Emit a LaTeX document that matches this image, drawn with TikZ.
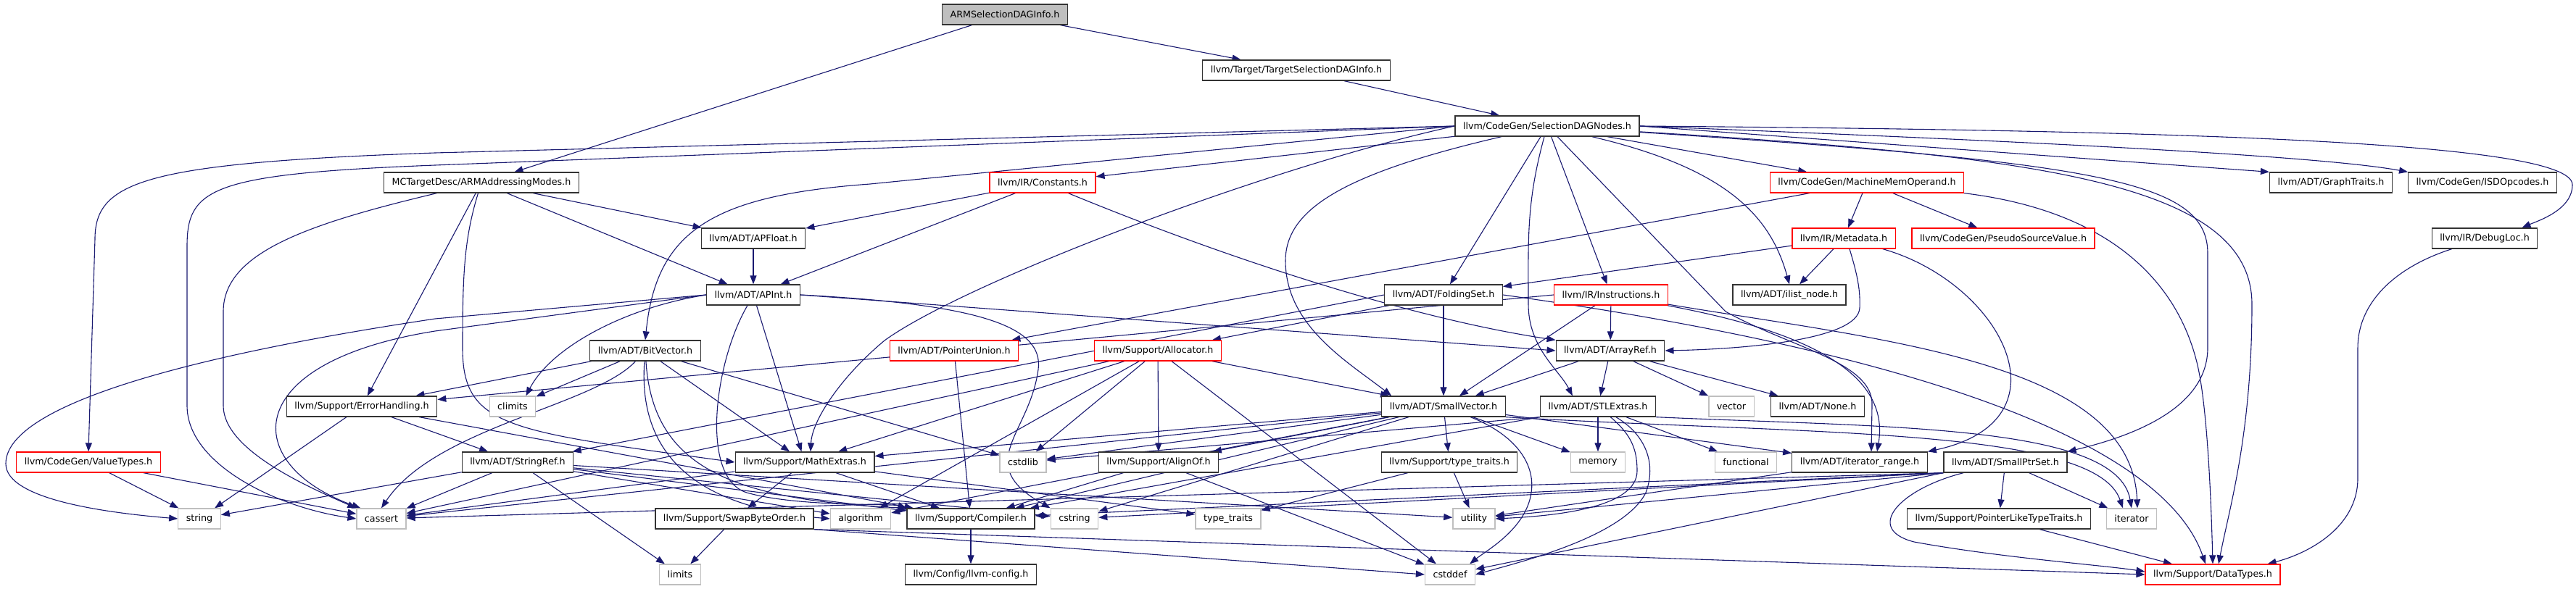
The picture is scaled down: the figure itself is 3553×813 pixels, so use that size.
\documentclass[tikz,border=0pt]{standalone}
\usepackage{fontspec}
\setmainfont{DejaVu Sans}
\usetikzlibrary{arrows.meta,backgrounds}
\definecolor{incblue}{HTML}{191970}
\definecolor{truncred}{HTML}{FF0000}
\definecolor{sysgrey}{HTML}{BFBFBF}

\begin{document}
\begin{tikzpicture}[
    x=1pt, y=-1pt,
    font=\fontsize{12.7}{15}\selectfont,
    box/.style={draw=black!80, line width=1.3pt, fill=white, inner xsep=11pt, inner ysep=0pt, minimum height=28pt},
    redbox/.style={box, draw=truncred},
    sysbox/.style={box, draw=sysgrey},
    rootbox/.style={box, fill=sysgrey},
    arr/.style={-{Triangle[length=12pt,width=9pt]}, line width=1.1pt, color=incblue}
]
\useasboundingbox (0,0) rectangle (3553,813);

% Top of the graph
\node[rootbox] (root) at (1386,20) {ARMSelectionDAGInfo.h};
\node[box] (tsdi) at (1788,97) {llvm/Target/TargetSelectionDAGInfo.h};
\node[box] (sdn) at (2134,174) {llvm/CodeGen/SelectionDAGNodes.h};

% Row 3
\node[box] (armam) at (664,252) {MCTargetDesc/ARMAddressingModes.h};
\node[redbox] (consts) at (1438,252) {llvm/IR/Constants.h};
\node[redbox] (mmo) at (2575,252) {llvm/CodeGen/MachineMemOperand.h};
\node[box] (gtraits) at (3215,252) {llvm/ADT/GraphTraits.h};
\node[box] (isd) at (3424,252) {llvm/CodeGen/ISDOpcodes.h};

% Row 4
\node[box] (apfloat) at (1039,329) {llvm/ADT/APFloat.h};
\node[redbox] (metadata) at (2543,329) {llvm/IR/Metadata.h};
\node[redbox] (psv) at (2763,329) {llvm/CodeGen/PseudoSourceValue.h};
\node[box] (dloc) at (3427,329) {llvm/IR/DebugLoc.h};

% Row 5
\node[box] (apint) at (1039,407) {llvm/ADT/APInt.h};
\node[box] (fset) at (1991,407) {llvm/ADT/FoldingSet.h};
\node[redbox] (instr) at (2222,407) {llvm/IR/Instructions.h};
\node[box] (ilist) at (2468,407) {llvm/ADT/ilist\_node.h};

% Row 6
\node[box] (bitvec) at (890,484) {llvm/ADT/BitVector.h};
\node[redbox] (punion) at (1316,484) {llvm/ADT/PointerUnion.h};
\node[redbox] (alloc) at (1597,484) {llvm/Support/Allocator.h};
\node[box] (aref) at (2221,484) {llvm/ADT/ArrayRef.h};

% Row 7
\node[box] (errh) at (499,561) {llvm/Support/ErrorHandling.h};
\node[sysbox] (climits) at (707,561) {climits};
\node[box] (svec) at (1991,561) {llvm/ADT/SmallVector.h};
\node[box] (stlx) at (2204,561) {llvm/ADT/STLExtras.h};
\node[sysbox] (vector) at (2388,561) {vector};
\node[box] (none) at (2507,561) {llvm/ADT/None.h};

% Row 8
\node[redbox] (vtypes) at (122,638) {llvm/CodeGen/ValueTypes.h};
\node[box] (sref) at (714,638) {llvm/ADT/StringRef.h};
\node[box] (mathx) at (1110,638) {llvm/Support/MathExtras.h};
\node[sysbox] (cstdlib) at (1411,638) {cstdlib};
\node[box] (alignof) at (1598,638) {llvm/Support/AlignOf.h};
\node[box] (ttraitsh) at (1999,638) {llvm/Support/type\_traits.h};
\node[sysbox] (memory) at (2204,638) {memory};
\node[sysbox] (functional) at (2408,638) {functional};
\node[box] (itrange) at (2565,638) {llvm/ADT/iterator\_range.h};
\node[box] (sptrset) at (2766,638) {llvm/ADT/SmallPtrSet.h};

% Row 9
\node[sysbox] (string) at (275,716) {string};
\node[sysbox] (cassert) at (526,716) {cassert};
\node[box] (swapbo) at (1013,716) {llvm/Support/SwapByteOrder.h};
\node[sysbox] (algorithm) at (1187,716) {algorithm};
\node[box] (compiler) at (1339,716) {llvm/Support/Compiler.h};
\node[sysbox] (cstring) at (1482,716) {cstring};
\node[sysbox] (ttraits) at (1694,716) {type\_traits};
\node[sysbox] (utility) at (2033,716) {utility};
\node[box] (pltt) at (2757,716) {llvm/Support/PointerLikeTypeTraits.h};
\node[sysbox] (iterator) at (2940,716) {iterator};

% Bottom row
\node[sysbox] (limits) at (938,793) {limits};
\node[box] (llvmcfg) at (1339,793) {llvm/Config/llvm-config.h};
\node[sysbox] (cstddef) at (2000,793) {cstddef};
\node[redbox] (dtypes) at (3052,793) {llvm/Support/DataTypes.h};

\begin{pgfonlayer}{background}
% Includes of the top files
\draw[arr] (root) -- (armam);
\draw[arr] (root) -- (tsdi);
\draw[arr] (tsdi) -- (sdn);

% ARMAddressingModes
\draw[arr] (armam) -- (apfloat);
\draw[arr] (armam) -- (apint);
\draw[arr] (armam) -- (errh);
\draw[arr] (armam) .. controls (640,330) and (638,380) .. (638,480) .. controls (638,590) and (700,595) .. (mathx.west);
\draw[arr] (armam) .. controls (420,310) and (308,350) .. (308,430) -- (308,560) .. controls (308,620) and (420,670) .. (cassert.north west);

% SelectionDAGNodes
\draw[arr] (sdn.west) -- (600,211) .. controls (200,225) and (131,250) .. (131,330) -- (vtypes.north);
\draw[arr] (sdn.west) -- (600,228) .. controls (290,240) and (258,260) .. (258,340) -- (258,560) .. controls (258,640) and (380,700) .. (cassert.west);
\draw[arr] (sdn.west) -- (1200,254) .. controls (980,270) and (905,320) .. (bitvec.north);
\draw[arr] (sdn) -- (consts);
\draw[arr] (sdn.west) .. controls (1750,230) and (1330,390) .. (1220,470) .. controls (1160,520) and (1120,580) .. ([xshift=8pt]mathx.north);
\draw[arr] (sdn) .. controls (1850,240) and (1773,290) .. (1773,360) .. controls (1773,450) and (1860,500) .. ([xshift=14pt]svec.north west);
\draw[arr] (sdn) -- (fset);
\draw[arr] (sdn) .. controls (2105,280) and (2108,330) .. (2108,420) .. controls (2108,480) and (2150,510) .. ([xshift=45pt]stlx.north west);
\draw[arr] (sdn) -- (instr);
\draw[arr] (sdn) -- (2380,430) .. controls (2470,480) and (2585,500) .. (2582,560) -- ([xshift=16pt]itrange.north);
\draw[arr] (sdn) .. controls (2370,230) and (2440,290) .. (ilist.north);
\draw[arr] (sdn) -- (mmo);
\draw[arr] (sdn.east) -- (gtraits.north west);
\draw[arr] (sdn.east) .. controls (2800,195) and (3200,215) .. (isd.north west);
\draw[arr] (sdn.east) .. controls (3000,180) and (3548,195) .. (3548,255) .. controls (3548,290) and (3500,305) .. ([xshift=-22pt]dloc.north east);
\draw[arr] (sdn) .. controls (2800,215) and (3106,250) .. (3106,420) .. controls (3106,600) and (3075,700) .. ([xshift=8pt]dtypes.north);
\draw[arr] (sdn) .. controls (2900,225) and (3045,250) .. (3045,350) -- (3045,480) .. controls (3045,560) and (2950,600) .. (sptrset.north east);

% Constants
\draw[arr] (consts) -- (apfloat);
\draw[arr] (consts) -- (apint);
\draw[arr] (consts) .. controls (1700,360) and (1950,440) .. (aref.north west);

% MachineMemOperand
\draw[arr] (mmo) -- (punion);
\draw[arr] (mmo) -- (metadata);
\draw[arr] (mmo) -- (psv);
\draw[arr] (mmo.south east) .. controls (2900,290) and (3000,380) .. (3030,500) .. controls (3045,560) and (3050,700) .. (dtypes.north);

% Metadata
\draw[arr] (metadata) -- (fset);
\draw[arr] (metadata) -- (ilist);
\draw[arr] ([xshift=8pt]metadata.south) .. controls (2562,380) and (2566,400) .. (2565,425) .. controls (2563,470) and (2400,482) .. (aref.east);
\draw[arr] ([xshift=-18pt]metadata.south east) .. controls (2760,390) and (2860,580) .. (itrange.north east);

% DebugLoc
\draw[arr] (dloc) .. controls (3300,370) and (3252,420) .. (3252,480) -- (3252,660) .. controls (3252,730) and (3180,765) .. ([xshift=-18pt]dtypes.north east);

% APFloat and APInt
\draw[arr] (apfloat) -- (apint);
\draw[arr] (apint.west) -- (600,440) .. controls (200,500) and (8,570) .. (8,640) .. controls (8,690) and (150,708) .. (string.west);
\draw[arr] (apint.west) -- (600,457) .. controls (330,500) and (330,640) .. ([xshift=6pt]cassert.north west);
\draw[arr] (apint.west) .. controls (860,425) and (760,480) .. ([xshift=-14pt]climits.north east);
\draw[arr] (apint) -- (mathx);
\draw[arr] ([xshift=-8pt]apint.south) .. controls (985,500) and (965,660) .. (1030,680) .. controls (1100,700) and (1230,695) .. (compiler.north west);
\draw[arr] (apint.east) -- (aref.west);
\draw[arr] (apint.east) .. controls (1350,420) and (1440,450) .. (1432,510) .. controls (1420,600) and (1340,640) .. (cstring.north west);

% BitVector
\draw[arr] (bitvec) -- (errh);
\draw[arr] (bitvec) -- (climits);
\draw[arr] (bitvec) .. controls (820,560) and (600,590) .. (cassert.north);
\draw[arr] (bitvec) .. controls (880,620) and (950,700) .. (algorithm.west);
\draw[arr] (bitvec) .. controls (900,640) and (1000,690) .. (compiler.north west);
\draw[arr] (bitvec) -- (mathx);
\draw[arr] (bitvec) -- (cstdlib);

% ErrorHandling
\draw[arr] (errh) -- (string);
\draw[arr] (errh) -- (sref);
\draw[arr] (errh) -- (compiler);

% Instructions
\draw[arr] (instr.west) -- (errh);
\draw[arr] (instr) -- (svec);
\draw[arr] (instr) -- (aref);
\draw[arr] (instr) .. controls (2450,450) and (2610,500) .. ([xshift=24pt]itrange.north);
\draw[arr] (instr) .. controls (2600,470) and (2940,500) .. ([xshift=8pt]iterator.north);

% FoldingSet
\draw[arr] (fset) -- (svec);
\draw[arr] (fset.west) -- (sref);
\draw[arr] (fset) -- (alloc);
\draw[arr] (fset.east) .. controls (2600,480) and (2980,600) .. ([xshift=-10pt]dtypes.north);

% PointerUnion and Allocator
\draw[arr] (punion) -- (compiler);
\draw[arr] (alloc) -- (svec);
\draw[arr] (alloc) -- (alignof);
\draw[arr] (alloc) -- (cstdlib);
\draw[arr] (alloc) -- (cassert);
\draw[arr] (alloc) -- (algorithm);
\draw[arr] (alloc) -- (mathx);
\draw[arr] (alloc) -- (cstddef);

% ArrayRef
\draw[arr] (aref) -- (svec);
\draw[arr] (aref) -- (stlx);
\draw[arr] (aref) -- (vector);
\draw[arr] (aref) -- (none);

% SmallVector
\draw[arr] (svec) -- (ttraitsh);
\draw[arr] (svec) -- (memory);
\draw[arr] (svec) .. controls (2090,600) and (2118,640) .. (2112,680) .. controls (2105,730) and (2050,760) .. ([xshift=-8pt]cstddef.north east);
\draw[arr] (svec.south east) .. controls (2500,600) and (2890,590) .. ([xshift=-12pt]iterator.north);
\draw[arr] (svec) -- (cstdlib);
\draw[arr] (svec) -- (alignof);
\draw[arr] (svec) -- (mathx);
\draw[arr] (svec) -- (cassert);
\draw[arr] (svec) -- (algorithm);
\draw[arr] (svec) -- (compiler);
\draw[arr] (svec) -- (cstring);
\draw[arr] (svec) -- (itrange);

% STLExtras
\draw[arr] (stlx) -- (memory);
\draw[arr] (stlx) -- (functional);
\draw[arr] (stlx) .. controls (2250,600) and (2258,620) .. (2258,650) .. controls (2258,700) and (2150,712) .. (utility.east);
\draw[arr] (stlx) .. controls (2270,600) and (2285,640) .. (2270,680) .. controls (2240,740) and (2100,775) .. (cstddef.east);
\draw[arr] (stlx.south east) .. controls (2600,590) and (2920,585) .. (iterator.north);
\draw[arr] (stlx.south west) -- (cstdlib);
\draw[arr] (stlx.south west) -- (compiler);

% Lower rows
\draw[arr] (vtypes) -- (string);
\draw[arr] (vtypes) -- (cassert);
\draw[arr] (sref) -- (limits);
\draw[arr] (sref) -- (cassert);
\draw[arr] (sref) -- (string);
\draw[arr] (sref) -- (algorithm);
\draw[arr] (sref) -- (compiler);
\draw[arr] (sref) -- (cstring);
\draw[arr] (sref) -- (utility);
\draw[arr] (mathx) -- (swapbo);
\draw[arr] (mathx) -- (cassert);
\draw[arr] (mathx) -- (compiler);
\draw[arr] (mathx) -- (ttraits);
\draw[arr] (swapbo) -- (limits);
\draw[arr] (swapbo.south east) -- (cstddef.west);
\draw[arr] (swapbo.south east) -- (dtypes.west);
\draw[arr] (compiler) -- (llvmcfg);
\draw[arr] (alignof) -- (compiler);
\draw[arr] (alignof) -- (cstddef);
\draw[arr] (ttraitsh) -- (utility);
\draw[arr] (ttraitsh) -- (ttraits);
\draw[arr] (itrange) -- (utility);
\draw[arr] (sptrset) -- (pltt);
\draw[arr] (sptrset) -- (iterator);
\draw[arr] (sptrset) .. controls (2620,675) and (2570,730) .. (2640,748) .. controls (2760,770) and (2900,780) .. ([yshift=4pt]dtypes.west);
\draw[arr] (sptrset.south west) -- (cassert);
\draw[arr] (sptrset.south west) -- (compiler);
\draw[arr] (sptrset.south west) -- (cstring);
\draw[arr] (sptrset.south west) -- (cstddef);
\draw[arr] (sptrset.south west) -- (utility);
\draw[arr] (pltt) -- (dtypes);
\end{pgfonlayer}

\end{tikzpicture}
\end{document}
